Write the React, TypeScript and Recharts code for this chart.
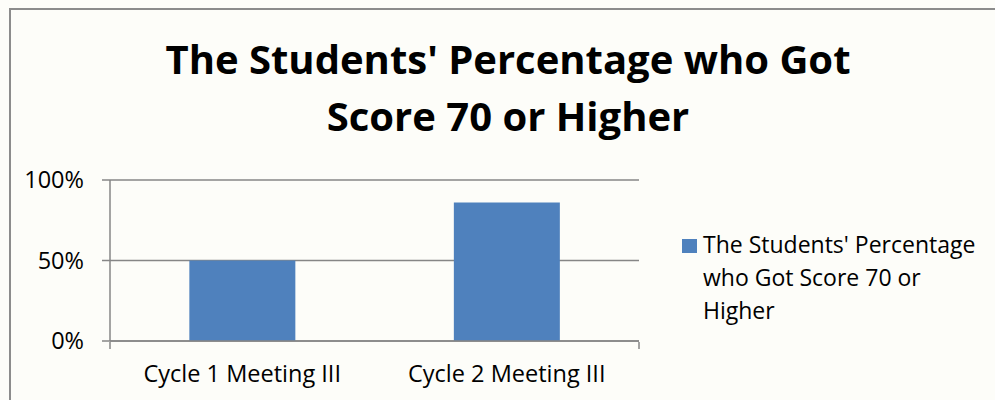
import React from 'react';
import { BarChart, Bar, XAxis, YAxis, CartesianGrid } from 'recharts';

const categories = ['Cycle 1 Meeting III', 'Cycle 2 Meeting III'];
const percentages = [0.5, 0.86];
const yTicks = [0, 0.5, 1];
const boundaryTicks = [0, 1, 2];
const seriesName = "The Students' Percentage who Got Score 70 or Higher";
const titleLines = ["The Students' Percentage who Got", 'Score 70 or Higher'];
const legendLines = ["The Students' Percentage", 'who Got Score 70 or', 'Higher'];

const chartData = categories.map((name, i) => ({ name, value: percentages[i] }));

const FONT = '"Open Sans", Lato, sans-serif';
const BLUE = '#4f81bd';
const AXIS = '#868686';

export default function App() {
  return (
    <div style={{ position: 'absolute', left: 0, top: 0, width: 995, height: 400, overflow: 'hidden', background: '#fdfdf9' }}>
      <div
        style={{
          position: 'absolute',
          left: 9,
          top: 8,
          width: 1000,
          height: 400,
          border: '2px solid #8c8c8c',
          boxSizing: 'border-box'
        }}
      />
      {titleLines.map((line, i) => (
        <div
          key={line}
          style={{
            position: 'absolute',
            left: 0,
            width: 1016,
            top: 34.5 + i * 57,
            textAlign: 'center',
            fontFamily: FONT,
            fontWeight: 700,
            fontSize: 40,
            lineHeight: '48px',
            color: '#000',
            whiteSpace: 'nowrap'
          }}
        >
          {line}
        </div>
      ))}
      <BarChart
        width={995}
        height={400}
        data={chartData}
        margin={{ top: 180, right: 356, bottom: 29, left: 0 }}
        barCategoryGap="30%"
        style={{ position: 'absolute', left: 0, top: 0 }}
      >
        <CartesianGrid vertical={false} stroke={AXIS} strokeWidth={1.5} />
        {/* category axis kept 1px tall so the boundary-tick axis sits right under it */}
        <XAxis
          dataKey="name"
          axisLine={{ stroke: AXIS, strokeWidth: 1.5 }}
          tickLine={false}
          tick={{ fontFamily: FONT, fontSize: 23.5, fill: '#000', dy: 16 }}
          height={1}
        />
        <XAxis
          xAxisId="bounds"
          type="number"
          domain={[0, 2]}
          ticks={boundaryTicks}
          tickFormatter={() => ''}
          axisLine={false}
          tickLine={{ stroke: AXIS, strokeWidth: 1.5 }}
          tickSize={7}
          height={29}
        />
        <YAxis
          domain={[0, 1]}
          ticks={yTicks}
          width={110}
          axisLine={{ stroke: AXIS, strokeWidth: 1.5 }}
          tickLine={{ stroke: AXIS, strokeWidth: 1.5 }}
          tickSize={8}
          tickFormatter={(v: number) => `${Math.round(v * 100)}%`}
          tick={{ fontFamily: FONT, fontSize: 23.5, fill: '#000', dx: -16 }}
        />
        <Bar dataKey="value" name={seriesName} fill={BLUE} isAnimationActive={false} />
      </BarChart>
      <div style={{ position: 'absolute', left: 682, top: 227.5, fontFamily: FONT, fontSize: 23, color: '#000', lineHeight: '33px' }}>
        <div style={{ position: 'absolute', left: 0, top: 11.5, width: 15, height: 14, background: BLUE }} />
        <div style={{ marginLeft: 21, whiteSpace: 'nowrap' }}>
          {legendLines.map((l) => (
            <div key={l}>{l}</div>
          ))}
        </div>
      </div>
    </div>
  );
}
